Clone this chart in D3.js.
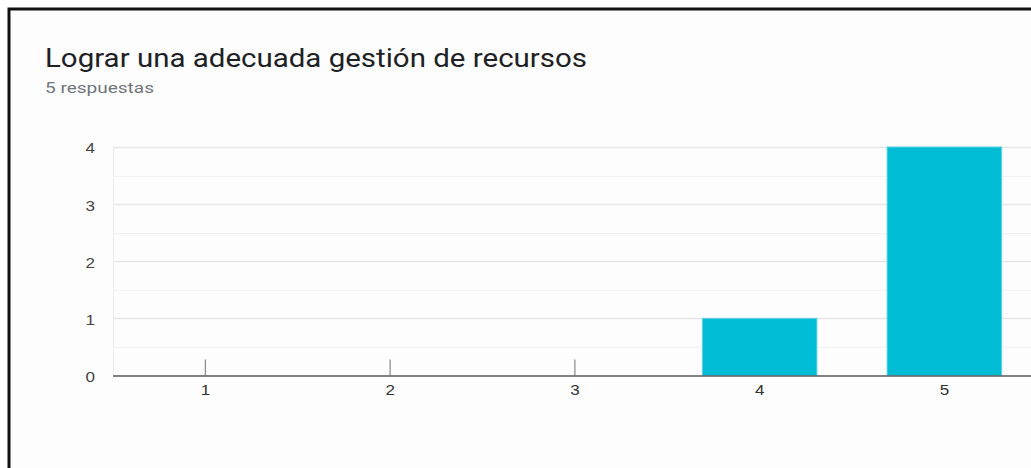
<!DOCTYPE html>
<html>
<head>
<meta charset="utf-8">
<script src="https://cdn.jsdelivr.net/npm/d3@7"></script>
<style>
  html, body { margin: 0; padding: 0; background: #ffffff; }
  svg { display: block; }
</style>
</head>
<body>
<svg id="chart" width="1031" height="468"></svg>
<script>
// Survey question: distribution of answers on a 1–5 scale
const title = "Lograr una adecuada gestión de recursos";
const subtitle = "5 respuestas";
const categories = ["1", "2", "3", "4", "5"];
const counts = [0, 0, 0, 1, 4];
const yTicks = [0, 1, 2, 3, 4];
const yMinor = [0.5, 1.5, 2.5, 3.5];

const svg = d3.select("#chart");
const W = 1031, H = 468;

// Card with a dark frame
svg.append("rect")
  .attr("x", 9).attr("y", 9)
  .attr("width", W + 20).attr("height", H + 20)
  .attr("fill", "#fdfdfd")
  .attr("stroke", "#111").attr("stroke-width", 3);

svg.append("text")
  .attr("x", 45).attr("y", 67)
  .attr("font-family", "Roboto, sans-serif")
  .attr("font-size", 25)
  .attr("textLength", 542)
  .attr("lengthAdjust", "spacingAndGlyphs")
  .attr("fill", "#202124")
  .text(title);

svg.append("text")
  .attr("x", 45).attr("y", 93)
  .attr("font-family", "Roboto, sans-serif")
  .attr("font-size", 15)
  .attr("textLength", 109)
  .attr("lengthAdjust", "spacingAndGlyphs")
  .attr("fill", "#70757a")
  .text(subtitle);

const plot = { left: 113, top: 147, bottom: 375.5, step: 184.75 };
const x = d3.scaleBand()
  .domain(categories)
  .range([plot.left, plot.left + plot.step * categories.length])
  .paddingInner(0.38)
  .paddingOuter(0.19);
const y = d3.scaleLinear().domain([0, 4]).range([plot.bottom, plot.top]);

const g = svg.append("g");

// Minor gridlines
g.selectAll("line.minor").data(yMinor).join("line")
  .attr("class", "minor")
  .attr("x1", plot.left).attr("x2", W)
  .attr("y1", d => Math.round(y(d)) + 0.5).attr("y2", d => Math.round(y(d)) + 0.5)
  .attr("stroke", "#f2f2f2").attr("stroke-width", 1);

// Major gridlines
g.selectAll("line.major").data(yTicks.filter(d => d > 0)).join("line")
  .attr("class", "major")
  .attr("x1", plot.left).attr("x2", W)
  .attr("y1", d => Math.round(y(d)) + 0.5).attr("y2", d => Math.round(y(d)) + 0.5)
  .attr("stroke", "#e6e6e6").attr("stroke-width", 1.3);

// Left vertical edge of the plot
g.append("line")
  .attr("x1", plot.left + 0.5).attr("x2", plot.left + 0.5)
  .attr("y1", plot.top).attr("y2", plot.bottom)
  .attr("stroke", "#ececec");

const labelStyle = s => s
  .attr("font-family", "'Liberation Sans', Arial, sans-serif")
  .attr("font-size", 14)
  .attr("textLength", 9.5)
  .attr("lengthAdjust", "spacingAndGlyphs");

// Y axis labels
const yAxis = d3.axisLeft(y).tickValues(yTicks).tickSize(0).tickPadding(0).tickFormat(d3.format("d"));
svg.append("g")
  .attr("transform", `translate(95,0)`)
  .call(yAxis)
  .call(s => s.select(".domain").remove())
  .call(s => s.selectAll("text").call(labelStyle)
    .attr("dy", "0.35em")
    .attr("y", 1)
    .attr("fill", "#444"));

// Category labels
const xAxis = d3.axisBottom(x).tickSize(0).tickPadding(0);
svg.append("g")
  .attr("transform", `translate(0,${plot.bottom})`)
  .call(xAxis)
  .call(s => s.select(".domain").remove())
  .call(s => s.selectAll("text").call(labelStyle)
    .attr("dy", "0")
    .attr("y", 19.5)
    .attr("fill", "#333"));

// Category tick marks
g.selectAll("line.tick").data(categories).join("line")
  .attr("class", "tick")
  .attr("x1", d => x(d) + x.bandwidth() / 2).attr("x2", d => x(d) + x.bandwidth() / 2)
  .attr("y1", plot.bottom - 16).attr("y2", plot.bottom)
  .attr("stroke", "#888").attr("stroke-width", 1.2);

// Bars
g.selectAll("rect.bar").data(categories.map((c, i) => ({ c, v: counts[i] })).filter(d => d.v > 0))
  .join("rect")
  .attr("class", "bar")
  .attr("x", d => x(d.c))
  .attr("y", d => y(d.v))
  .attr("width", x.bandwidth())
  .attr("height", d => y(0) - y(d.v))
  .attr("fill", "#00bcd4")
  .attr("stroke", "#5fd3e6").attr("stroke-width", 1);

// Baseline
g.append("line")
  .attr("x1", plot.left).attr("x2", W)
  .attr("y1", plot.bottom + 0.5).attr("y2", plot.bottom + 0.5)
  .attr("stroke", "#5a5a5a").attr("stroke-width", 1.6);
</script>
</body>
</html>
